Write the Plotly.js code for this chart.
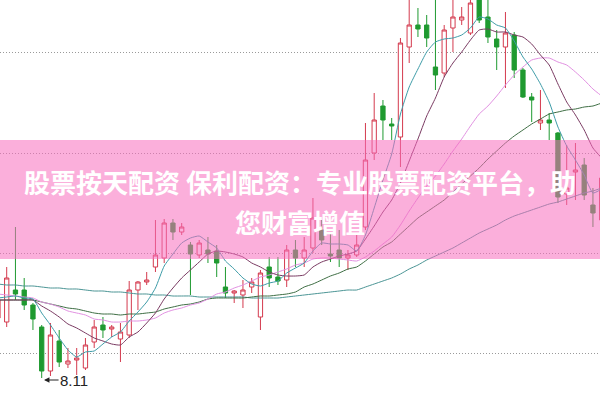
<!DOCTYPE html>
<html>
<head>
<meta charset="utf-8">
<script src="https://cdn.plot.ly/plotly-3.0.1.min.js"></script>
<style>html,body{margin:0;padding:0;background:#fff;}#chart{width:600px;height:400px;}</style>
</head>
<body>
<div id="chart"></div>
<script>
// trading-day index (one per candle)
const days = [-1,0,1,2,3,4,5,6,7,8,9,10,11,12,13,14,15,16,17,18,19,20,21,22,23,24,25,26,27,28,29,30,31,32,33,34,35,36,37,38,39,40,41,42,43,44,45,46,47,48,49,50,51,52,53,54,55,56,57,58,59,60,61,62,63,64,65,66,67,68];

const open = [8.71,8.67,8.99,8.99,8.84,8.62,8.18,8.48,8.25,8.29,8.21,8.47,8.64,8.60,8.50,8.54,8.99,9.07,9.22,9.31,9.66,9.57,9.44,9.34,9.39,9.38,9.02,8.96,8.94,9.02,8.72,9.22,9.12,9.09,9.39,9.31,9.41,9.59,9.35,9.39,9.31,9.34,9.62,10.36,10.83,10.65,10.52,11.42,11.64,11.64,11.22,11.16,11.61,11.69,11.56,11.91,11.72,11.50,11.42,11.54,11.19,10.92,10.66,10.69,10.56,9.95,10.17,10.24,9.84,9.69];
const close = [8.89,9.11,8.95,8.84,8.70,8.18,8.54,8.27,8.28,8.31,8.44,8.62,8.59,8.62,8.57,8.99,9.07,9.09,9.34,9.66,9.57,9.62,9.35,9.46,9.35,9.26,8.96,8.98,8.99,9.07,9.16,9.11,9.08,9.39,9.31,9.39,9.71,9.49,9.33,9.31,9.34,9.44,10.29,10.69,10.69,10.63,11.46,11.64,11.60,11.51,11.14,11.59,11.72,11.72,11.86,11.69,11.52,11.42,11.56,11.19,10.92,10.89,10.69,10.66,9.92,10.01,10.19,9.94,9.76,10.11];
const high = [8.99,9.22,9.62,9.11,8.86,8.64,8.66,8.59,8.41,8.41,8.51,8.69,8.72,8.64,8.66,9.08,9.08,9.17,9.69,9.70,9.70,9.66,9.47,9.49,9.52,9.44,9.22,8.99,9.09,9.11,9.19,9.32,9.32,9.44,9.49,9.52,9.91,9.69,9.56,9.59,9.39,9.56,10.66,10.96,10.89,10.71,11.51,11.94,11.81,11.74,11.94,11.64,11.91,11.82,11.92,11.97,11.91,11.59,11.77,11.57,11.21,10.96,10.99,10.76,10.57,10.44,10.46,10.31,10.01,10.19];
const low = [8.64,8.62,8.89,8.79,8.59,8.11,8.13,8.22,8.21,8.14,8.19,8.41,8.51,8.52,8.27,8.51,8.79,9.04,9.17,9.26,9.49,9.54,8.94,9.31,9.26,9.12,8.91,8.86,8.81,8.96,8.59,9.02,9.04,9.02,9.22,9.22,9.36,9.44,9.27,9.22,9.19,9.32,9.59,10.29,10.49,10.49,10.22,11.26,11.52,11.42,10.99,11.12,11.37,11.64,11.54,11.66,11.46,11.19,11.01,11.11,10.91,10.67,10.59,10.49,9.86,9.84,9.89,9.89,9.62,9.64];

const ma5 = [8.91,8.92,8.93,8.91,8.90,8.76,8.64,8.51,8.39,8.32,8.37,8.38,8.45,8.52,8.57,8.68,8.77,8.87,9.01,9.23,9.35,9.46,9.51,9.53,9.47,9.41,9.28,9.20,9.11,9.05,9.03,9.06,9.08,9.16,9.21,9.26,9.38,9.46,9.45,9.45,9.44,9.38,9.54,9.81,10.09,10.35,10.75,11.02,11.20,11.37,11.47,11.50,11.51,11.54,11.61,11.72,11.70,11.64,11.61,11.48,11.32,11.20,11.05,10.87,10.62,10.43,10.29,10.14,9.96,10.00];
const ma10 = [8.89,8.89,8.89,8.89,8.89,8.83,8.78,8.72,8.65,8.61,8.56,8.51,8.48,8.45,8.44,8.52,8.57,8.66,8.76,8.90,9.01,9.11,9.19,9.27,9.35,9.38,9.37,9.35,9.32,9.26,9.22,9.17,9.14,9.13,9.13,9.14,9.22,9.27,9.30,9.33,9.35,9.38,9.50,9.63,9.77,9.89,10.06,10.28,10.50,10.73,10.91,11.12,11.26,11.37,11.49,11.59,11.60,11.57,11.57,11.54,11.52,11.45,11.34,11.24,11.05,10.87,10.74,10.59,10.41,10.31];
const ma20 = [8.95,8.94,8.93,8.92,8.91,8.87,8.85,8.82,8.78,8.76,8.74,8.70,8.69,8.67,8.67,8.68,8.68,8.69,8.71,8.76,8.79,8.81,8.84,8.86,8.90,8.95,8.97,9.01,9.04,9.08,9.12,9.14,9.17,9.20,9.24,9.26,9.30,9.31,9.31,9.30,9.29,9.28,9.32,9.38,9.45,9.52,9.64,9.78,9.91,10.03,10.13,10.25,10.38,10.50,10.63,10.75,10.83,10.93,11.04,11.14,11.22,11.29,11.31,11.31,11.27,11.24,11.17,11.09,11.00,10.93];
const ma30 = [8.89,8.89,8.89,8.89,8.89,8.87,8.85,8.83,8.81,8.80,8.78,8.76,8.75,8.75,8.74,8.75,8.75,8.76,8.77,8.80,8.82,8.84,8.85,8.87,8.90,8.91,8.91,8.91,8.91,8.92,8.93,8.93,8.94,8.95,8.97,9.02,9.05,9.09,9.13,9.16,9.20,9.22,9.28,9.35,9.42,9.47,9.55,9.63,9.71,9.77,9.83,9.89,9.97,10.05,10.13,10.21,10.30,10.38,10.46,10.53,10.59,10.65,10.70,10.75,10.77,10.79,10.80,10.82,10.83,10.86];
const ma60 = [9.05,9.04,9.04,9.03,9.03,9.02,9.01,9.01,9.00,9.00,8.99,8.98,8.98,8.97,8.97,8.96,8.95,8.95,8.94,8.94,8.93,8.93,8.93,8.92,8.92,8.92,8.92,8.92,8.92,8.91,8.91,8.91,8.91,8.92,8.93,8.94,8.95,8.96,8.97,8.98,8.99,8.99,9.02,9.05,9.08,9.11,9.15,9.20,9.24,9.29,9.33,9.37,9.41,9.46,9.51,9.56,9.60,9.64,9.69,9.73,9.76,9.79,9.82,9.85,9.87,9.90,9.93,9.96,9.98,10.01];

const gridPrices = [8.36, 9.36, 10.36, 11.37];
const lowLabel = '8.11';
const lowDay = 4;
const lowPrice = 8.11;
const bannerLine1 = '股票按天配资 保利配资：专业股票配资平台，助';
const bannerLine2 = '您财富增值';

const RED = '#d43a4e', GREEN = '#1f9a30';

function ma(y, color) {
  return {type:'scatter', mode:'lines', x: days, y: y, hoverinfo:'skip',
          line:{color: color, width: 1, shape:'spline', smoothing: 0.5}};
}

const data = [
  {type:'candlestick', x: days, open: open, high: high, low: low, close: close,
   increasing:{line:{color:RED, width:1}, fillcolor:'#ffffff'},
   decreasing:{line:{color:GREEN, width:1}, fillcolor:GREEN},
   whiskerwidth: 0, hoverinfo:'skip'},
  ma(ma60, '#4b9595'),
  ma(ma30, '#3e6e44'),
  ma(ma20, '#e291e2'),
  ma(ma10, '#7a3a62'),
  ma(ma5, '#3e9ca8')
];

const layout = {
  width: 600, height: 400,
  margin: {l:0, r:0, t:0, b:0},
  paper_bgcolor:'#ffffff', plot_bgcolor:'#ffffff',
  showlegend: false,
  xaxis: {range:[-0.766, 67.806], visible:false, rangeslider:{visible:false}, fixedrange:true},
  yaxis: {range:[7.89, 11.89], tickvals: gridPrices, showticklabels:false, ticks:'',
          showgrid:true, gridcolor:'#9a9a9a', griddash:'1px,2px', gridwidth:1,
          zeroline:false, showline:false, fixedrange:true},
  shapes: [
    {type:'rect', xref:'paper', yref:'paper', x0:0, x1:1, y0:0.3525, y1:0.65,
     fillcolor:'rgba(247,110,190,0.55)', line:{width:0}, layer:'above'}
  ],
  annotations: [
    {x: lowDay + 0.27, y: lowPrice - 0.02, xref:'x', yref:'y', text: lowLabel,
     showarrow:true, ax: 30, ay: 0, arrowhead: 2, arrowsize: 0.9, arrowwidth: 1.2,
     arrowcolor:'#222', font:{family:'Liberation Sans, Arial, sans-serif', size:15, color:'#222'}},
    {x:0.5, y:0.5475, xref:'paper', yref:'paper', text:'<b>'+bannerLine1+'</b>', showarrow:false,
     font:{family:'Noto Sans CJK SC, sans-serif', size:26, color:'#ffffff'}},
    {x:0.5, y:0.4475, xref:'paper', yref:'paper', text:'<b>'+bannerLine2+'</b>', showarrow:false,
     font:{family:'Noto Sans CJK SC, sans-serif', size:26, color:'#ffffff'}}
  ]
};

Plotly.newPlot('chart', data, layout, {staticPlot:true, displayModeBar:false});
</script>
</body>
</html>
